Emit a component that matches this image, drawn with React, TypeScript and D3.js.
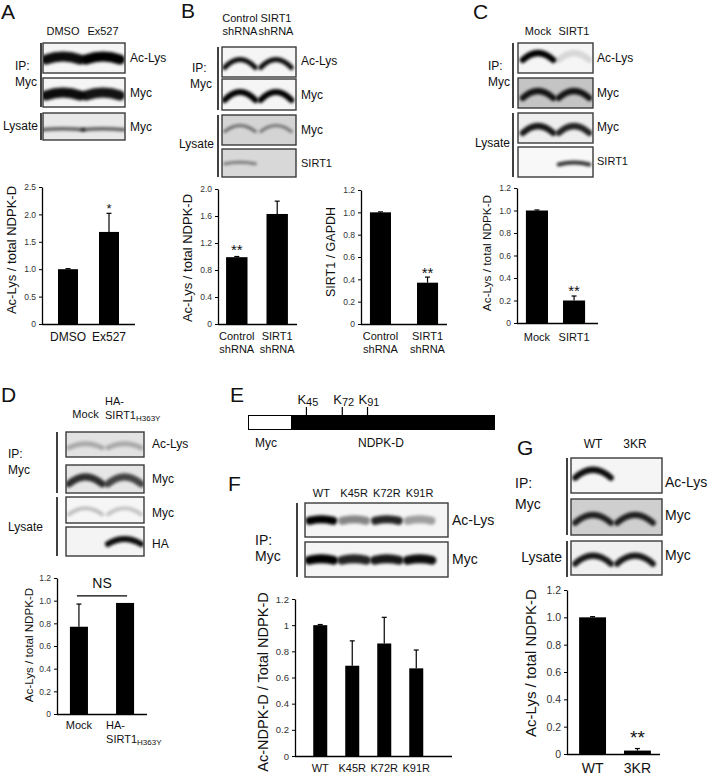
import React, { useEffect, useRef } from 'react';
import * as d3 from 'd3';

const FONT = 'Liberation Sans, Arial, Helvetica, sans-serif';

// ---- Panel A: Ex527 ----
const aLanes = ['DMSO', 'Ex527'];
const aAcLys = [0.95, 1.0];
const aIpMyc = [0.95, 0.92];
const aLysMyc = [0.6, 0.6];
const aVals = [1.0, 1.68];
const aErrs = [0.01, 0.34];
const aSig = ['', '*'];
const aTicks = ['0', '0.5', '1.0', '1.5', '2.0', '2.5'];

// ---- Panel B: SIRT1 shRNA ----
const bLanes = [['Control', 'shRNA'], ['SIRT1', 'shRNA']];
const bAcLys = [0.95, 0.95];
const bIpMyc = [1.0, 1.0];
const bLysMyc = [0.5, 0.45];
const bSirt1 = [0.45, 0];
const bVals = [0.99, 1.63];
const bErrs = [0.01, 0.19];
const bSig = ['**', ''];
const bTicks = ['0', '0.4', '0.8', '1.2', '1.6', '2.0'];
const b2Vals = [1.0, 0.37];
const b2Errs = [0.004, 0.05];
const b2Sig = ['', '**'];
const b2Ticks = ['0', '0.2', '0.4', '0.6', '0.8', '1.0', '1.2'];

// ---- Panel C: SIRT1 overexpression ----
const cLanes = ['Mock', 'SIRT1'];
const cAcLys = [1.0, 0.12];
const cIpMyc = [0.9, 0.9];
const cLysMyc = [0.9, 0.85];
const cSirt1 = [0, 0.8];
const cVals = [1.0, 0.2];
const cErrs = [0.005, 0.04];
const cSig = ['', '**'];
const cTicks = ['0', '0.2', '0.4', '0.6', '0.8', '1.0', '1.2'];

// ---- Panel D: HA-SIRT1 H363Y ----
const dLanes = ['Mock', 'HA-SIRT1'];
const dAcLys = [0.25, 0.25];
const dIpMyc = [0.8, 0.7];
const dLysMyc = [0.22, 0.2];
const dHA = [0, 0.95];
const dVals = [0.77, 0.98];
const dErrs = [0.2, 0];
const dTicks = ['0', '0.2', '0.4', '0.6', '0.8', '1.0', '1.2'];

// ---- Panel E: construct ----
const eLength = 187;
const eSites = [45, 72, 91];

// ---- Panel F: K->R mutants ----
const fLanes = ['WT', 'K45R', 'K72R', 'K91R'];
const fAcLys = [1.0, 0.45, 0.85, 0.35];
const fIpMyc = [1.0, 0.85, 0.9, 0.95];
const fVals = [1.0, 0.69, 0.86, 0.67];
const fErrs = [0.005, 0.19, 0.2, 0.14];
const fTicks = ['0', '0.2', '0.4', '0.6', '0.8', '1', '1.2'];

// ---- Panel G: 3KR ----
const gLanes = ['WT', '3KR'];
const gAcLys = [0.95, 0];
const gIpMyc = [0.85, 0.85];
const gLysMyc = [0.9, 0.9];
const gVals = [1.0, 0.025];
const gErrs = [0.005, 0.015];
const gSig = ['', '**'];
const gTicks = ['0', '0.2', '0.4', '0.6', '0.8', '1.0', '1.2'];

let clipId = 0;

function label(g, x, y, s, size, anchor = 'start') {
  return g.append('text').attr('x', x).attr('y', y).attr('font-size', size)
    .attr('text-anchor', anchor).attr('fill', '#111').text(s);
}

function vLabel(g, cx, cy, s, size) {
  return g.append('text').attr('transform', `translate(${cx},${cy}) rotate(-90)`)
    .attr('text-anchor', 'middle').attr('dominant-baseline', 'central')
    .attr('font-size', size).attr('fill', '#111').text(s);
}

function bracket(g, x, y0, y1) {
  g.append('line').attr('x1', x).attr('x2', x).attr('y1', y0).attr('y2', y1)
    .attr('stroke', '#111').attr('stroke-width', 1.6);
}

// one western blot strip, bands placed on a band scale
function blot(g, box, lanes, intens, o: any = {}) {
  const [x0, x1, y0, y1] = box;
  const id = `clip${clipId++}`;
  g.append('clipPath').attr('id', id).append('rect')
    .attr('x', x0).attr('y', y0).attr('width', x1 - x0).attr('height', y1 - y0);
  g.append('rect').attr('x', x0).attr('y', y0).attr('width', x1 - x0).attr('height', y1 - y0)
    .attr('fill', o.bg || '#f5f5f5');
  const lx = d3.scaleBand().domain(d3.range(intens.length)).range(lanes);
  const yc = y0 + (y1 - y0) * (o.cy ?? 0.5);
  const arch = o.arch ?? 5;
  const wf = o.wf ?? 0.85;
  g.append('g').attr('clip-path', `url(#${id})`)
    .selectAll('path').data(intens).join('path')
    .attr('d', (v, i) => {
      const c = lx(i) + lx.bandwidth() / 2;
      const w = (lx.bandwidth() * wf) / 2;
      return `M${c - w},${yc + arch / 2}Q${c},${yc - arch * 1.5} ${c + w},${yc + arch / 2}`;
    })
    .attr('fill', 'none').attr('stroke', '#000').attr('stroke-width', o.thick ?? 6)
    .attr('stroke-linecap', 'round').attr('opacity', (v) => v).attr('filter', 'url(#blur)');
  g.append('rect').attr('x', x0).attr('y', y0).attr('width', x1 - x0).attr('height', y1 - y0)
    .attr('fill', 'none').attr('stroke', '#3a3a3a').attr('stroke-width', 1.4);
  return lx;
}

function laneLabels(g, lx, names, y, size, lineH = 13) {
  names.forEach((n, i) => {
    const lines = Array.isArray(n) ? n : [n];
    lines.forEach((s, j) => label(g, lx(i) + lx.bandwidth() / 2, y + j * lineH, s, size, 'middle'));
  });
}

function barChart(g, c) {
  const tv = c.ticks.map(Number);
  const y = d3.scaleLinear().domain([0, d3.max(tv)]).range([c.y0, c.yTop]);
  const x = d3.scaleBand().domain(c.cats).range([c.x0, c.x1]).paddingInner(c.pi).paddingOuter(c.po);

  const ax = g.append('g').attr('transform', `translate(${c.x0},0)`)
    .call(d3.axisLeft(y).tickValues(tv).tickFormat((d, i) => c.ticks[i]).tickSize(3).tickSizeOuter(0).tickPadding(3));
  ax.attr('font-family', FONT).attr('font-size', c.tickSize);
  ax.select('.domain').attr('stroke-width', 1.3);
  ax.selectAll('.tick text').attr('fill', '#333');

  g.append('line').attr('x1', c.x0).attr('x2', c.xEnd).attr('y1', c.y0 + 0.5).attr('y2', c.y0 + 0.5)
    .attr('stroke', '#000').attr('stroke-width', 1.3);

  g.selectAll(null).data(c.vals).join('rect')
    .attr('x', (v, i) => x(c.cats[i]))
    .attr('y', (v) => y(v))
    .attr('width', x.bandwidth())
    .attr('height', (v) => c.y0 - y(v))
    .attr('fill', '#000');

  const cx = (i) => x(c.cats[i]) + x.bandwidth() / 2;
  c.vals.forEach((v, i) => {
    const e = c.errs[i];
    if (!e) return;
    g.append('line').attr('x1', cx(i)).attr('x2', cx(i)).attr('y1', y(v)).attr('y2', y(v + e))
      .attr('stroke', '#000').attr('stroke-width', 1.2);
    g.append('line').attr('x1', cx(i) - 2.5).attr('x2', cx(i) + 2.5).attr('y1', y(v + e)).attr('y2', y(v + e))
      .attr('stroke', '#000').attr('stroke-width', 1.2);
  });

  if (c.sig) {
    c.sig.forEach((s, i) => {
      if (!s) return;
      label(g, cx(i), y(c.vals[i] + c.errs[i]) - c.sigGap, s, c.sigSize, 'middle');
    });
  }

  if (c.xLabels) {
    c.xLabels.forEach((lines, i) => {
      lines.forEach((s, j) => label(g, cx(i), c.xLabelY + j * 13, s, c.xLabelSize, 'middle'));
    });
  }

  vLabel(g, c.yl[0], c.yl[1], c.yLabel, c.yLabelSize);
  return { x, y, cx };
}

const App = () => {
  const svgRef = useRef(null);

  useEffect(() => {
    const svg = d3.select(svgRef.current);
    svg.selectAll('*').remove();
    clipId = 0;

    // blur region in user space so flat bands are not clipped by their thin bbox
    svg.append('defs').append('filter').attr('id', 'blur')
      .attr('filterUnits', 'userSpaceOnUse')
      .attr('x', 0).attr('y', 0).attr('width', 712).attr('height', 778)
      .append('feGaussianBlur').attr('stdDeviation', 1.5);

    const root = svg.append('g').attr('font-family', FONT);

    // ===== Panel A =====
    const A = root.append('g');
    label(A, 1, 19, 'A', 21);
    const aLx = blot(A, [43, 125, 43, 73], [43, 123], aAcLys, { arch: 3, thick: 10 });
    blot(A, [43, 125, 78, 107], [43, 123], aIpMyc, { arch: 3, thick: 10, cy: 0.55 });
    blot(A, [43, 125, 113, 140], [43, 123], aLysMyc, { arch: 1, thick: 3.5, cy: 0.6, wf: 1.05, bg: '#e8e8e8' });
    laneLabels(A, aLx, aLanes, 35, 11);
    bracket(A, 41, 43, 107);
    bracket(A, 41, 113, 140);
    label(A, 15, 70, 'IP:', 12);
    label(A, 15, 86, 'Myc', 12);
    label(A, 38, 130, 'Lysate', 12, 'end');
    label(A, 130, 62, 'Ac-Lys', 12);
    label(A, 130, 97, 'Myc', 12);
    label(A, 130, 131, 'Myc', 12);
    barChart(A, {
      cats: aLanes, vals: aVals, errs: aErrs, ticks: aTicks, sig: aSig, sigGap: 0, sigSize: 13,
      x0: 42, x1: 135, pi: 0.512, po: 0.39, xEnd: 135, y0: 324, yTop: 187, tickSize: 8.5,
      xLabels: aLanes.map((s) => [s]), xLabelY: 341, xLabelSize: 12,
      yLabel: 'Ac-Lys / total NDPK-D', yl: [11, 250], yLabelSize: 13,
    });

    // ===== Panel B =====
    const B = root.append('g');
    label(B, 181, 18, 'B', 21);
    const bLx = blot(B, [222, 296, 47, 77], [222, 294], bAcLys, { arch: 8, thick: 5, cy: 0.55 });
    blot(B, [222, 296, 79, 110], [222, 294], bIpMyc, { arch: 8, thick: 6, cy: 0.55 });
    blot(B, [222, 296, 115, 145], [222, 294], bLysMyc, { arch: 6, thick: 3, cy: 0.45, bg: '#d4d4d4' });
    blot(B, [222, 296, 149, 177], [222, 294], bSirt1, { arch: 1.5, thick: 3, cy: 0.5, bg: '#d8d8d8' });
    laneLabels(B, bLx, bLanes, 22, 11);
    bracket(B, 218, 47, 110);
    bracket(B, 218, 115, 177);
    label(B, 192, 72, 'IP:', 12);
    label(B, 190, 88, 'Myc', 12);
    label(B, 214, 148, 'Lysate', 12, 'end');
    label(B, 301, 65, 'Ac-Lys', 12);
    label(B, 301, 99, 'Myc', 12);
    label(B, 301, 134, 'Myc', 12);
    label(B, 301, 167, 'SIRT1', 11);
    const bCats = bLanes.map((l) => l.join(' '));
    barChart(B, {
      cats: bCats, vals: bVals, errs: bErrs, ticks: bTicks, sig: bSig, sigGap: 1.5, sigSize: 15,
      x0: 218, x1: 296, pi: 0.47, po: 0.2, xEnd: 297, y0: 324, yTop: 189, tickSize: 8.5,
      xLabels: bLanes, xLabelY: 340, xLabelSize: 11,
      yLabel: 'Ac-Lys / total NDPK-D', yl: [187, 258], yLabelSize: 13,
    });
    barChart(B, {
      cats: bCats, vals: b2Vals, errs: b2Errs, ticks: b2Ticks, sig: b2Sig, sigGap: -1, sigSize: 15,
      x0: 361, x1: 447, pi: 0.553, po: 0.19, xEnd: 447, y0: 324, yTop: 190, tickSize: 8.5,
      xLabels: bLanes, xLabelY: 340, xLabelSize: 11,
      yLabel: 'SIRT1 / GAPDH', yl: [331, 252], yLabelSize: 12.5,
    });

    // ===== Panel C =====
    const C = root.append('g');
    label(C, 473, 19, 'C', 21);
    const cLx = blot(C, [518, 593, 43, 73], [520, 592], cAcLys, { arch: 7, thick: 6, cy: 0.45 });
    blot(C, [518, 593, 78, 108], [520, 592], cIpMyc, { arch: 7, thick: 6, cy: 0.55, bg: '#c4c4c4' });
    blot(C, [518, 593, 113, 143], [520, 592], cLysMyc, { arch: 7, thick: 6, cy: 0.55, bg: '#eeeeee' });
    blot(C, [518, 593, 147, 177], [520, 592], cSirt1, { arch: 2, thick: 4, cy: 0.55, bg: '#f8f8f8' });
    laneLabels(C, cLx, cLanes, 35, 11);
    bracket(C, 513, 43, 108);
    bracket(C, 513, 113, 177);
    label(C, 488, 70, 'IP:', 12);
    label(C, 488, 86, 'Myc', 12);
    label(C, 510, 147, 'Lysate', 12, 'end');
    label(C, 597, 62, 'Ac-Lys', 12);
    label(C, 597, 97, 'Myc', 12);
    label(C, 597, 131, 'Myc', 12);
    label(C, 597, 165, 'SIRT1', 11);
    barChart(C, {
      cats: cLanes, vals: cVals, errs: cErrs, ticks: cTicks, sig: cSig, sigGap: 0, sigSize: 15,
      x0: 517, x1: 594, pi: 0.405, po: 0.24, xEnd: 598, y0: 323, yTop: 188, tickSize: 8.5,
      xLabels: cLanes.map((s) => [s]), xLabelY: 341, xLabelSize: 11,
      yLabel: 'Ac-Lys / total NDPK-D', yl: [487, 253], yLabelSize: 11.8,
    });

    // ===== Panel D =====
    const D = root.append('g');
    label(D, 1, 402, 'D', 21);
    const dLx = blot(D, [66, 144, 432, 457], [66, 144], dAcLys, { arch: 4, thick: 5, cy: 0.55, bg: '#e2e2e2' });
    blot(D, [66, 144, 465, 493], [66, 144], dIpMyc, { arch: 7, thick: 7, cy: 0.55, bg: '#e6e6e6' });
    blot(D, [66, 144, 497, 523], [66, 144], dLysMyc, { arch: 6, thick: 4, cy: 0.55, bg: '#f6f6f6' });
    blot(D, [66, 144, 527, 556], [66, 144], dHA, { arch: 5, thick: 6, cy: 0.5, bg: '#f4f4f4' });
    label(D, dLx(0) + dLx.bandwidth() / 2, 418, dLanes[0], 11, 'middle');
    label(D, 105, 405, 'HA-', 11);
    const dHead = label(D, 105, 419, 'SIRT1', 11);
    dHead.append('tspan').attr('font-size', 8).attr('dy', 2).text('H363Y');
    bracket(D, 57, 432, 493);
    bracket(D, 57, 497, 556);
    label(D, 8, 458, 'IP:', 12);
    label(D, 8, 474, 'Myc', 12);
    label(D, 8, 531, 'Lysate', 12);
    label(D, 152, 448, 'Ac-Lys', 12);
    label(D, 152, 483, 'Myc', 12);
    label(D, 152, 517, 'Myc', 12);
    label(D, 152, 548, 'HA', 12);
    const dc = barChart(D, {
      cats: dLanes, vals: dVals, errs: dErrs, ticks: dTicks,
      x0: 57, x1: 147, pi: 0.609, po: 0.28, xEnd: 147, y0: 714, yTop: 578, tickSize: 8.5,
      yLabel: 'Ac-Lys / total NDPK-D', yl: [28, 645], yLabelSize: 11.6,
    });
    const nsY = dc.y(d3.max(dVals.map((v, i) => v + dErrs[i]))) - 7;
    D.append('line').attr('x1', dc.cx(0) - 2).attr('x2', dc.cx(1) + 2).attr('y1', nsY).attr('y2', nsY)
      .attr('stroke', '#000').attr('stroke-width', 1.2);
    label(D, (dc.cx(0) + dc.cx(1)) / 2, nsY - 8, 'NS', 14, 'middle');
    label(D, dc.cx(0), 729, dLanes[0], 11, 'middle');
    label(D, dc.cx(1) - 19, 729, 'HA-', 11);
    const dX = label(D, dc.cx(1) - 19, 743, 'SIRT1', 11);
    dX.append('tspan').attr('font-size', 8).attr('dy', 2).text('H363Y');

    // ===== Panel E =====
    const E = root.append('g');
    label(E, 230, 402, 'E', 21);
    const rx = d3.scaleLinear().domain([1, eLength]).range([248, 495]);
    E.append('rect').attr('x', rx(1)).attr('y', 415).attr('width', rx(eLength) - rx(1)).attr('height', 15)
      .attr('fill', '#000');
    E.append('rect').attr('x', rx(1) + 0.5).attr('y', 415.5).attr('width', 43).attr('height', 14)
      .attr('fill', '#fff').attr('stroke', '#000').attr('stroke-width', 1);
    eSites.forEach((k) => {
      E.append('line').attr('x1', rx(k)).attr('x2', rx(k)).attr('y1', 407).attr('y2', 415)
        .attr('stroke', '#000').attr('stroke-width', 1.2);
      const t = label(E, rx(k) - 9, 404, 'K', 13);
      t.append('tspan').attr('font-size', 11).attr('dy', 1.5).text(String(k));
    });
    label(E, 255, 447, 'Myc', 12);
    label(E, 358, 447, 'NDPK-D', 12);

    // ===== Panel F =====
    const F = root.append('g');
    label(F, 228, 491, 'F', 21);
    const fLx = blot(F, [305, 448, 503, 537], [305, 436], fAcLys, { arch: 1.5, thick: 8, wf: 0.72 });
    blot(F, [305, 448, 542, 577], [305, 436], fIpMyc, { arch: 1.5, thick: 9, wf: 0.75 });
    laneLabels(F, fLx, fLanes, 497, 11);
    bracket(F, 297, 503, 577);
    label(F, 255, 545, 'IP:', 14);
    label(F, 255, 561, 'Myc', 14);
    label(F, 452, 525, 'Ac-Lys', 14);
    label(F, 452, 564, 'Myc', 14);
    barChart(F, {
      cats: fLanes, vals: fVals, errs: fErrs, ticks: fTicks,
      x0: 295, x1: 441.5, pi: 0.5625, po: 0.57, xEnd: 452, y0: 756, yTop: 599, tickSize: 9.5,
      xLabels: fLanes.map((s) => [s]), xLabelY: 772, xLabelSize: 11,
      yLabel: 'Ac-NDPK-D / Total NDPK-D', yl: [263, 682], yLabelSize: 14.5,
    });

    // ===== Panel G =====
    const G = root.append('g');
    label(G, 517, 455, 'G', 21);
    const gLx = blot(G, [571, 662, 458, 493], [572, 656], gAcLys, { arch: 8, thick: 6, cy: 0.45 });
    blot(G, [571, 662, 499, 535], [572, 656], gIpMyc, { arch: 8, thick: 6, cy: 0.55, bg: '#cfcfcf' });
    blot(G, [571, 662, 541, 575], [572, 656], gLysMyc, { arch: 8, thick: 6, cy: 0.55, bg: '#f0f0f0' });
    laneLabels(G, gLx, gLanes, 448, 12);
    bracket(G, 567, 458, 535);
    bracket(G, 567, 541, 577);
    label(G, 515, 488, 'IP:', 14);
    label(G, 515, 509, 'Myc', 14);
    label(G, 562, 562, 'Lysate', 14, 'end');
    label(G, 665, 487, 'Ac-Lys', 14);
    label(G, 665, 520, 'Myc', 14);
    label(G, 665, 560, 'Myc', 14);
    barChart(G, {
      cats: gLanes, vals: gVals, errs: gErrs, ticks: gTicks, sig: gSig, sigGap: 4.5, sigSize: 19,
      x0: 567, x1: 663, pi: 0.4, po: 0.27, xEnd: 660, y0: 754, yTop: 590, tickSize: 10.5,
      xLabels: gLanes.map((s) => [s]), xLabelY: 773, xLabelSize: 14,
      yLabel: 'Ac-Lys / total NDPK-D', yl: [530, 663], yLabelSize: 15,
    });
  }, []);

  return (
    <svg
      ref={svgRef}
      width={712}
      height={778}
      style={{ position: 'absolute', left: 0, top: 0, background: '#fff' }}
    />
  );
};

export default App;
